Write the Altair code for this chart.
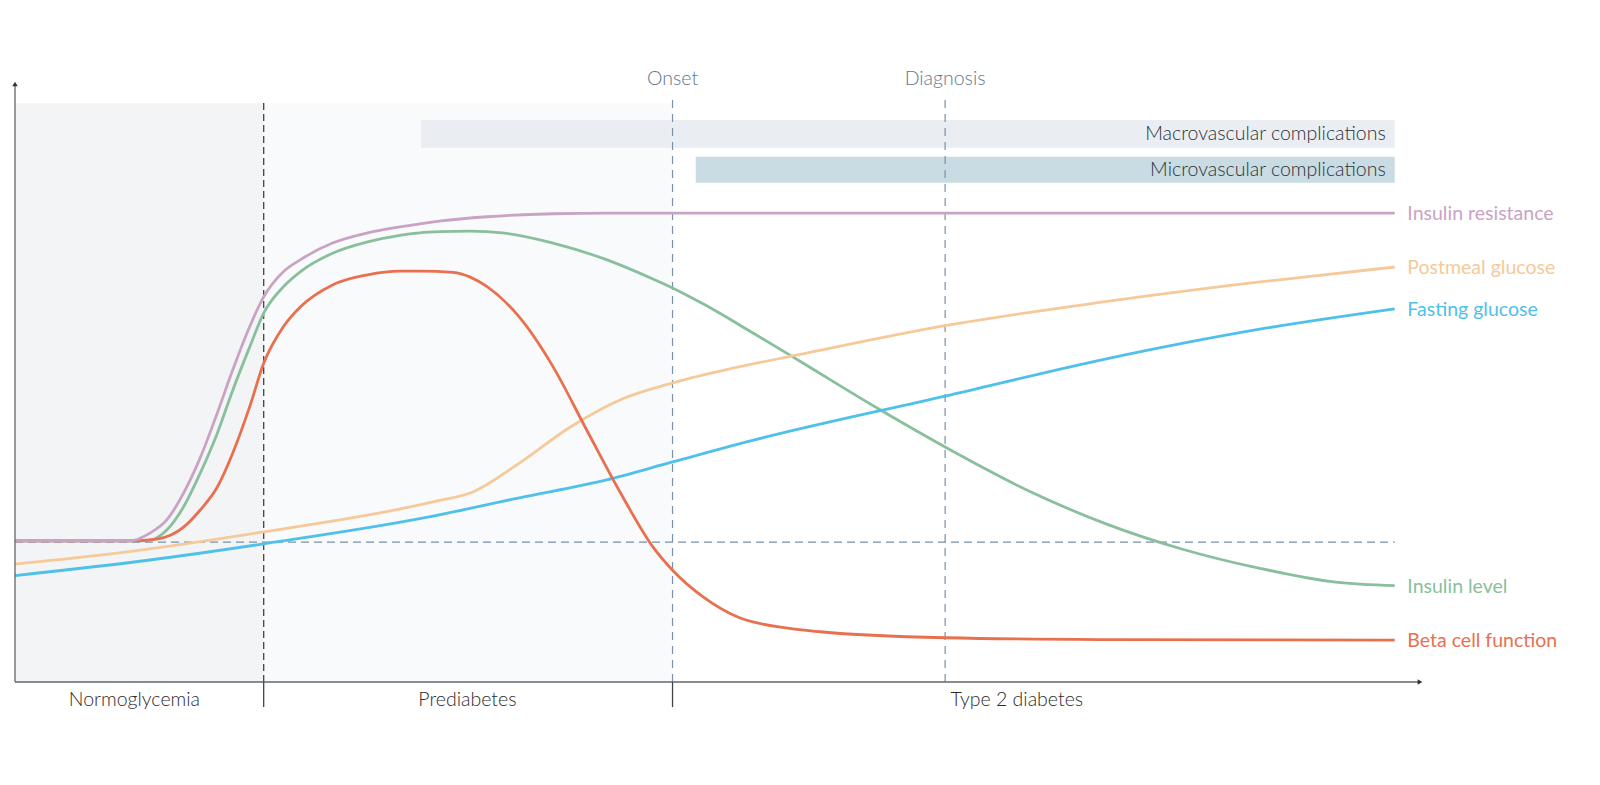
import altair as alt
import pandas as pd

# ---- data (x: disease progression 0-100, y: relative level 0-100) ----
ir_x = [0, 8.2, 9.6, 10.8, 12.0, 13.2, 14.4, 15.5, 16.7, 17.7, 19.1, 20.3, 22.6, 25.1, 27.4, 28.8, 30.3, 33.6, 38.3, 42.1, 46.8, 98.2]
ir_y = [23.6, 23.6, 24.9, 27.1, 31.6, 37.6, 45.0, 52.2, 59.4, 64.4, 68.6, 70.6, 73.4, 75.1, 76.1, 76.6, 77.1, 77.8, 78.3, 78.4, 78.4, 78.4]

il_x = [0, 8.4, 9.6, 10.8, 12.0, 13.2, 14.4, 15.5, 16.7, 17.7, 19.1, 20.3, 22.6, 25.1, 27.4, 28.8, 30.3, 32.4, 34.7, 38.3, 41.9, 45.4, 46.8, 49.0, 52.5, 55.9, 61.3, 66.2, 72.2, 77.7, 83.1, 88.6, 94.0, 98.2]
il_y = [23.6, 23.6, 23.7, 25.4, 29.3, 35.0, 41.6, 48.8, 56.0, 61.7, 66.1, 68.6, 71.7, 73.6, 74.7, 75.1, 75.3, 75.4, 75.1, 73.4, 70.8, 67.4, 65.9, 63.2, 58.4, 53.6, 45.9, 39.3, 31.9, 26.4, 22.2, 19.0, 16.7, 16.1]

bc_x = [0, 8.2, 10.1, 12.0, 13.2, 14.4, 15.5, 16.7, 17.7, 19.1, 20.3, 22.6, 25.1, 27.4, 28.8, 31.2, 32.4, 33.6, 35.9, 38.3, 40.7, 43.1, 45.4, 46.8, 49.0, 51.4, 55.0, 57.3, 66.2, 77.2, 98.2]
bc_y = [23.6, 23.6, 23.9, 25.9, 28.8, 32.6, 38.3, 46.0, 53.3, 59.4, 62.7, 66.4, 68.1, 68.7, 68.7, 68.5, 67.7, 66.1, 61.0, 52.7, 42.1, 31.6, 22.6, 18.7, 14.2, 10.9, 9.0, 8.4, 7.4, 7.1, 7.0]

pm_x = [0, 6.05, 17.7, 28.8, 30.3, 32.4, 35.9, 39.5, 43.1, 46.8, 50.2, 55.9, 66.2, 77.6, 88.6, 98.2]
pm_y = [19.7, 21.2, 25.1, 29.6, 30.4, 31.6, 36.6, 42.6, 47.2, 50.0, 52.0, 54.8, 59.6, 63.6, 66.9, 69.4]

fg_x = [0, 9.6, 17.7, 28.8, 35.9, 42.1, 46.8, 52.5, 66.2, 77.6, 88.6, 98.2]
fg_y = [17.8, 20.4, 23.1, 27.3, 30.8, 33.8, 36.8, 40.4, 47.8, 54.0, 59.0, 62.4]

series_names = ["Insulin resistance", "Postmeal glucose", "Fasting glucose", "Insulin level", "Beta cell function"]
series_colors = ["#c9a3c4", "#f5c999", "#4fc0ea", "#89bf9c", "#e8704f"]
label_y = [78.4, 69.4, 62.4, 16.1, 7.0]
label_x = 99.1

stage_names = ["Normoglycemia", "Prediabetes", "Type 2 diabetes"]
stage_start = [0, 17.7, 46.8]
stage_end = [17.7, 46.8, 98.2]
stage_label_x = [8.5, 32.2, 71.3]
stage_fill = ["#f3f4f6", "#f9fafb", "#ffffff"]

event_names = ["Onset", "Diagnosis"]
event_x = [46.8, 66.2]

comp_names = ["Macrovascular complications", "Microvascular complications"]
comp_start = [28.9, 48.45]
comp_end = [98.2, 98.2]
comp_lo = [89.35, 83.5]
comp_hi = [93.98, 87.84]
comp_fill = ["#eaeef2", "#c9dbe3"]

threshold_y = 23.4

# ---- build tables ----
series_data = {
    "Insulin resistance": (ir_x, ir_y),
    "Postmeal glucose": (pm_x, pm_y),
    "Fasting glucose": (fg_x, fg_y),
    "Insulin level": (il_x, il_y),
    "Beta cell function": (bc_x, bc_y),
}
color_of = dict(zip(series_names, series_colors))

labels_df = pd.DataFrame({"series": series_names, "x": [label_x] * 5, "y": label_y, "color": series_colors})
stages_df = pd.DataFrame({"stage": stage_names, "x": stage_start, "x2": stage_end, "fill": stage_fill,
                          "mid": stage_label_x})
events_df = pd.DataFrame({"event": event_names, "x": event_x})
comp_df = pd.DataFrame({"name": comp_names, "x": comp_start, "x2": comp_end, "y": comp_lo, "y2": comp_hi,
                        "fill": comp_fill, "ym": [(a + b) / 2 for a, b in zip(comp_lo, comp_hi)]})

XS = alt.Scale(domain=[0, 100], nice=False, zero=False)
YS = alt.Scale(domain=[0, 100], nice=False, zero=False)
FONT = "Lato"
FS = 19.5

def X(f="x"):
    return alt.X(f"{f}:Q", scale=XS, axis=None)

def Y(f="y"):
    return alt.Y(f"{f}:Q", scale=YS, axis=None)

# background shading for stages
shade = alt.Chart(stages_df.iloc[:2]).transform_calculate(lo="0", hi="96.8").mark_rect().encode(
    x=X("x"), x2="x2:Q", y=alt.Y("lo:Q", scale=YS, axis=None), y2="hi:Q",
    color=alt.Color("fill:N", scale=None),
)

# complication bars
comp_bars = alt.Chart(comp_df).mark_rect().encode(
    x=X("x"), x2="x2:Q", y=Y("y"), y2="y2:Q", color=alt.Color("fill:N", scale=None)
)
comp_text = alt.Chart(comp_df).mark_text(align="right", baseline="middle", font=FONT, fontSize=FS,
                                          fontWeight=300, color="#2b3138", dx=-9).encode(
    x=X("x2"), y=Y("ym"), text="name:N"
)

# threshold dashed line
thresh = alt.Chart(pd.DataFrame({"y": [threshold_y], "x": [0], "x2": [98.2]})).mark_rule(
    strokeDash=[8, 5], color="#7891a8", strokeWidth=1.2).encode(x=X("x"), x2="x2:Q", y=Y("y"))

# stage boundary dashed line (normo/prediabetes)
boundary = alt.Chart(pd.DataFrame({"x": [stage_start[1]], "y": [0], "y2": [97.2]})).mark_rule(
    strokeDash=[7, 4], color="#444444", strokeWidth=1.3).encode(x=X("x"), y=Y("y"), y2="y2:Q")

# event dashed lines
ev_rules = alt.Chart(events_df).transform_calculate(lo="0", hi="97.8").mark_rule(
    strokeDash=[8, 6], color="#7891a8", strokeWidth=1.2).encode(
    x=X("x"), y=alt.Y("lo:Q", scale=YS, axis=None), y2="hi:Q")
ev_text = alt.Chart(events_df).transform_calculate(yy="100.8").mark_text(
    align="center", baseline="middle", font=FONT, fontSize=FS, fontWeight=300, color="#60788f").encode(
    x=X("x"), y=alt.Y("yy:Q", scale=YS, axis=None), text="event:N")

# curves, drawn bottom to top
draw_order = ["Insulin level", "Postmeal glucose", "Fasting glucose", "Beta cell function", "Insulin resistance"]
curve_layers = []
for name in draw_order:
    xs, ys = series_data[name]
    df = pd.DataFrame({"x": xs, "y": ys})
    curve_layers.append(
        alt.Chart(df).mark_line(interpolate="monotone", strokeWidth=2.8, color=color_of[name]).encode(
            x=X("x"), y=Y("y"))
    )

curve_labels = alt.Chart(labels_df).mark_text(align="left", baseline="middle", font=FONT, fontSize=FS,
                                              fontWeight=400, dy=1).encode(
    x=X("x"), y=Y("y"), text="series:N", color=alt.Color("color:N", scale=None)
)

# axes
axes_df = pd.DataFrame({"x": [0, 0], "x2": [0, 100], "y": [0, 0], "y2": [100, 0]})
axes = alt.Chart(axes_df).mark_rule(color="#666666", strokeWidth=1.3).encode(
    x=X("x"), x2="x2:Q", y=Y("y"), y2="y2:Q")
arrows_df = pd.DataFrame({"x": [0, 100], "y": [100, 0], "shape": ["triangle-up", "triangle-right"]})
arrows = alt.Chart(arrows_df).mark_point(filled=True, size=30, color="#333333", opacity=1).encode(
    x=X("x"), y=Y("y"), shape=alt.Shape("shape:N", scale=None))

# stage ticks and labels
ticks = alt.Chart(pd.DataFrame({"x": stage_start[1:]})).transform_calculate(lo="0", hi="-4.2").mark_rule(
    color="#444444", strokeWidth=1.3).encode(x=X("x"), y=alt.Y("lo:Q", scale=YS, axis=None), y2="hi:Q")
stage_text = alt.Chart(stages_df).transform_calculate(yy="-3.0").mark_text(
    align="center", baseline="middle", font=FONT, fontSize=FS, fontWeight=300, color="#2b2b2b").encode(
    x=X("mid"), y=alt.Y("yy:Q", scale=YS, axis=None), text="stage:N")

chart = alt.layer(
    shade, comp_bars, comp_text, thresh, boundary, ev_rules, ev_text,
    *curve_layers, curve_labels, axes, arrows, ticks, stage_text,
).properties(
    width=1405, height=598,
    background="white",
    autosize=alt.AutoSizeParams(type="none"),
    padding={"left": 15, "top": 84, "right": 180, "bottom": 103},
).configure_view(strokeWidth=0)

chart.save("out.html", embed_options={"renderer": "svg", "actions": False})
